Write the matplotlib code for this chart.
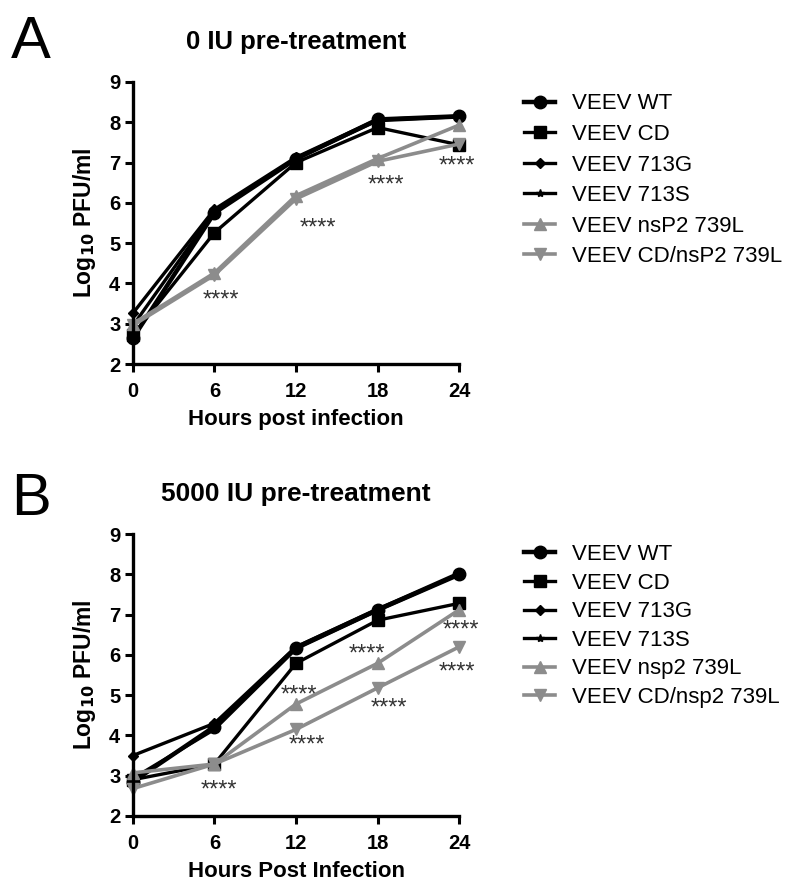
import matplotlib
matplotlib.use('Agg')
import matplotlib.pyplot as plt

plt.rcParams['font.family'] = ['Liberation Sans', 'DejaVu Sans']

hours = [0, 6, 12, 18, 24]

labels_a = ['VEEV WT', 'VEEV CD', 'VEEV 713G', 'VEEV 713S',
            'VEEV nsP2 739L', 'VEEV CD/nsP2 739L']
labels_b = ['VEEV WT', 'VEEV CD', 'VEEV 713G', 'VEEV 713S',
            'VEEV nsp2 739L', 'VEEV CD/nsp2 739L']

# panel A: 0 IU pre-treatment
wt_a = [2.64, 5.75, 7.09, 8.07, 8.15]
cd_a = [2.72, 5.26, 7.00, 7.87, 7.44]
g713_a = [3.26, 5.84, 7.13, 8.07, 8.15]
s713_a = [2.95, 5.80, 7.10, 8.04, 8.13]
nsp2_a = [3.00, 4.26, 6.18, 7.10, 7.93]
cdnsp2_a = [2.96, 4.21, 6.10, 7.03, 7.46]

# panel B: 5000 IU pre-treatment
wt_b = [2.85, 4.22, 6.18, 7.12, 8.02]
cd_b = [2.90, 3.29, 5.79, 6.86, 7.28]
g713_b = [3.50, 4.30, 6.20, 7.14, 8.00]
s713_b = [2.93, 4.15, 6.15, 7.10, 7.98]
nsp2_b = [3.07, 3.29, 4.78, 5.79, 7.12]
cdnsp2_b = [2.68, 3.29, 4.15, 5.18, 6.20]

# significance marks (x in hours, y in log10 PFU/ml)
stars_a_x = [6.5, 13.6, 18.6, 23.8]
stars_a_y = [3.72, 5.50, 6.56, 7.03]
stars_b_x = [6.3, 12.2, 12.8, 17.2, 18.8, 24.1, 23.8]
stars_b_y = [2.78, 5.13, 3.89, 6.15, 4.80, 6.73, 5.70]

GRAY = '#8c8c8c'
styles = [
    dict(color='black', marker='o', ms=9, lw=3.2),
    dict(color='black', marker='s', ms=8, lw=2.4),
    dict(color='black', marker='D', ms=5.5, lw=2.4),
    dict(color='black', marker='*', ms=6, lw=2.4),
    dict(color=GRAY, marker='^', ms=8, lw=2.6),
    dict(color=GRAY, marker='v', ms=8, lw=2.6),
]


def panel(ax, series, labels, title, title_size, letter, letter_y, sx, sy,
          xlabel, legend_y, spacing):
    for ys, lab, st in zip(series, labels, styles):
        ax.plot(hours, ys, label=lab, clip_on=False, **st)
    # asterisks sit high in the glyph box, so nudge them down a little
    for x, y in zip(sx, sy):
        ax.annotate('****', (x, y), xytext=(0, -4), textcoords='offset points',
                    ha='center', va='center', fontsize=17, color='#333333',
                    annotation_clip=False)
    ax.set_xlim(0, 24)
    ax.set_ylim(2, 9)
    ax.set_xticks(hours)
    ax.set_yticks(range(2, 10))
    for s in ['top', 'right']:
        ax.spines[s].set_visible(False)
    for s in ['left', 'bottom']:
        ax.spines[s].set_linewidth(2.4)
    ax.tick_params(width=2.2, length=6, labelsize=14.5)
    ax.tick_params(axis='x', pad=7)
    ax.tick_params(axis='y', pad=3)
    for t in ax.get_xticklabels() + ax.get_yticklabels():
        t.set_fontweight('bold')
    ax.set_xlabel(xlabel, fontsize=16, fontweight='bold', labelpad=6)
    ax.set_ylabel(r'Log$_{\mathbf{10}}$ PFU/ml', fontsize=16.5,
                  fontweight='bold', labelpad=8)
    ax.set_title(title, fontsize=title_size, fontweight='bold', pad=24)
    fig.text(0.014, letter_y, letter, fontsize=43, ha='left',
             va='baseline')
    ax.legend(loc='upper left', bbox_to_anchor=(1.138, legend_y),
              frameon=False, fontsize=16, handlelength=1.4,
              handletextpad=0.75, labelspacing=spacing)


fig = plt.figure(figsize=(8, 8.88), dpi=100)
ax_a = fig.add_axes([0.166, 0.590, 0.408, 0.3177])
ax_b = fig.add_axes([0.166, 0.0811, 0.408, 0.3175])

panel(ax_a, [wt_a, cd_a, g713_a, s713_a, nsp2_a, cdnsp2_a], labels_a,
      '0 IU pre-treatment', 18.5, 'A', 0.9347, stars_a_x, stars_a_y,
      'Hours post infection', 1.03, 0.43)
panel(ax_b, [wt_b, cd_b, g713_b, s713_b, nsp2_b, cdnsp2_b], labels_b,
      '5000 IU pre-treatment', 19, 'B', 0.42, stars_b_x, stars_b_y,
      'Hours Post Infection', 1.035, 0.34)

fig.savefig('out.png', dpi=100)
